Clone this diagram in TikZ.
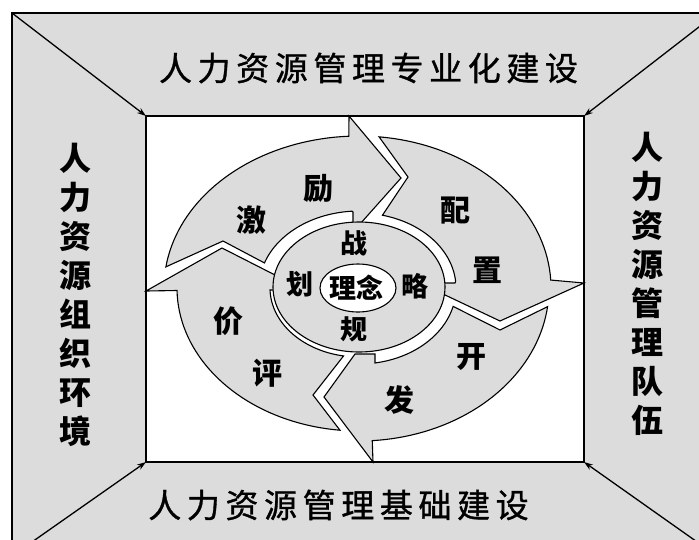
\documentclass[tikz,border=0pt]{standalone}
\usepackage{fontspec}
\newfontfamily\cjk{Noto Sans CJK SC}
\newfontfamily\cjkm[FakeBold=1]{Noto Sans CJK SC}
\usetikzlibrary{arrows.meta}
\definecolor{panel}{RGB}{220,220,220}
\newcommand\chgap{\kern5.6pt}
\begin{document}
\begin{tikzpicture}[x=1pt,y=-1pt,
  seg/.style={fill=panel,draw=black,line width=1.1pt,line join=miter},
  diag/.style={line width=1.3pt,-{Stealth[length=9pt,width=6pt]}},
  htext/.style={font=\fontsize{33}{38}\selectfont\cjkm, inner sep=0pt},
  vtext/.style={font=\fontsize{32}{39}\selectfont\cjk\bfseries, align=center, inner sep=0pt},
  ringch/.style={font=\fontsize{30}{32}\selectfont\cjk\bfseries, inner sep=0pt},
  midch/.style={font=\fontsize{27}{30}\selectfont\cjk\bfseries, inner sep=0pt}]
\useasboundingbox (0,0) rectangle (699,539);
\clip (0,0) rectangle (699,539);
% frame
\coordinate (OTL) at (12,13);
\coordinate (OTR) at (717,13);
\coordinate (OBL) at (12,556);
\coordinate (OBR) at (717,556);
\coordinate (ITL) at (146,116);
\coordinate (ITR) at (584,116);
\coordinate (IBL) at (146,462);
\coordinate (IBR) at (584,462);
\fill[panel] (OTL) rectangle (OBR);
\draw[line width=1.1pt] (OTL) rectangle (OBR);
\fill[white] (ITL) rectangle (IBR);
\draw[line width=1.2pt] (ITL) rectangle (IBR);
\draw[diag] (OTL) -- (ITL);
\draw[diag] (OTR) -- (ITR);
\draw[diag] (OBL) -- (IBL);
\draw[diag] (OBR) -- (IBR);
% arrow segments of the cycle
% 激励 (top-left)
\draw[seg] plot[domain=188:267,samples=40] ({359+195*cos(\x)},{288+152*sin(\x)})
  -- (349,116) -- (401,178) -- (360,224) -- (353,224) -- (353,212)
  -- plot[domain=266:199,samples=40] ({359+100*cos(\x)},{288+77*sin(\x)})
  -- (223,241) -- cycle;
% 配置 (top-right)
\draw[seg] plot[domain=276:357,samples=40] ({359+192*cos(\x)},{288+152*sin(\x)})
  -- (584,283) -- (500,321) -- (443,294) -- (443,283) -- (455,283)
  -- plot[domain=355:284,samples=40] ({359+97*cos(\x)},{288+75*sin(\x)})
  -- (408,177) -- cycle;
% 开发 (bottom-right)
\draw[seg] plot[domain=7:86,samples=40] ({359+190*cos(\x)},{288+153*sin(\x)})
  -- (373,462) -- (324,397) -- (355,354) -- (375,354) -- (375,363)
  -- plot[domain=80:14,samples=40] ({359+97*cos(\x)},{288+76*sin(\x)})
  -- (500,330) -- cycle;
% 价评 (bottom-left)
\draw[seg] plot[domain=96:179,samples=40] ({359+182*cos(\x)},{288+143*sin(\x)})
  -- (146,291) -- (222,248) -- (277,276) -- (277,290) -- (270,290)
  -- plot[domain=178:100,samples=40] ({359+89*cos(\x)},{288+69*sin(\x)})
  -- (313,395) -- cycle;
% middle ring
\draw[seg] (359,287) ellipse[x radius=86,y radius=65];
\draw[fill=white,draw=black,line width=1.1pt] (358,288) ellipse[x radius=38,y radius=24];
% frame texts
\node[htext] (topT) at (368.5,68) {人\chgap 力\chgap 资\chgap 源\chgap 管\chgap 理\chgap 专\chgap 业\chgap 化\chgap 建\chgap 设};
\node[htext] (botT) at (338.5,505) {人\chgap 力\chgap 资\chgap 源\chgap 管\chgap 理\chgap 基\chgap 础\chgap 建\chgap 设};
\node[vtext] (leftT) at (75,295) {人\\力\\资\\源\\组\\织\\环\\境};
\node[vtext] (rightT) at (647,284) {人\\力\\资\\源\\管\\理\\队\\伍};
% ring texts
\node[ringch] (c1) at (251,220) {激};
\node[ringch] (c2) at (318,189) {励};
\node[ringch] (c3) at (455,211) {配};
\node[ringch] (c4) at (487,270) {置};
\node[ringch] (c5) at (471,357) {开};
\node[ringch] (c6) at (399,400) {发};
\node[ringch] (c7) at (228,321) {价};
\node[ringch] (c8) at (267,373) {评};
% middle texts
\node[midch] (m1) at (354,243) {战};
\node[midch] (m2) at (415,286) {略};
\node[midch] (m3) at (354,329) {规};
\node[midch] (m4) at (300,284) {划};
\node[midch] (m5) at (356,288) {理念};
\end{tikzpicture}
\end{document}
